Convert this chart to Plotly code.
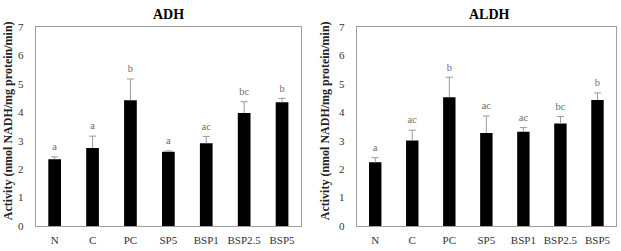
import plotly.graph_objects as go

categories = ["N", "C", "PC", "SP5", "BSP1", "BSP2.5", "BSP5"]

adh_values = [2.35, 2.74, 4.42, 2.61, 2.91, 3.97, 4.35]
adh_errors = [0.08, 0.42, 0.75, 0.03, 0.24, 0.40, 0.14]
adh_letters = ["a", "a", "b", "a", "ac", "bc", "b"]

aldh_values = [2.24, 3.01, 4.53, 3.27, 3.31, 3.60, 4.43]
aldh_errors = [0.16, 0.36, 0.70, 0.60, 0.15, 0.25, 0.25]
aldh_letters = ["a", "ac", "b", "ac", "ac", "bc", "b"]

y_ticks = [0, 1, 2, 3, 4, 5, 6, 7]
panel_titles = ["ADH", "ALDH"]
y_title = "Activity (nmol NADH/mg protein/min)"

SERIF = "Liberation Serif"
W, H = 621, 251

fig = go.Figure()

panels = [
    (adh_values, adh_errors, adh_letters, "x", "y"),
    (aldh_values, aldh_errors, aldh_letters, "x2", "y2"),
]

for vals, errs, letters, xa, ya in panels:
    fig.add_trace(go.Bar(
        x=categories, y=vals, xaxis=xa, yaxis=ya,
        marker=dict(color="#000000", line=dict(width=0)),
        showlegend=False, hoverinfo="skip",
    ))
    ex, ey = [], []
    for c, v, e in zip(categories, vals, errs):
        ex += [c, c, None]
        ey += [v, v + e, None]
    fig.add_trace(go.Scatter(
        x=ex, y=ey, xaxis=xa, yaxis=ya, mode="lines",
        line=dict(color="#9a9a9a", width=1),
        showlegend=False, hoverinfo="skip",
    ))
    tops = [v + e for v, e in zip(vals, errs)]
    fig.add_trace(go.Scatter(
        x=categories, y=tops, xaxis=xa, yaxis=ya, mode="markers+text",
        marker=dict(symbol="line-ew-open", size=5, color="#9a9a9a",
                    line=dict(width=1, color="#9a9a9a")),
        text=letters, textposition="top center",
        textfont=dict(family=SERIF, size=10.5, color="#6e6e6e"),
        showlegend=False, hoverinfo="skip",
    ))

y0 = (H - 231) / H
y1 = (H - 22) / H
dom1 = [35.7 / W, 301 / W]
dom2 = [356.7 / W, 616 / W]

axis_common = dict(
    showline=True, mirror=True, linecolor="#a0a0a0", linewidth=1,
    showgrid=False, zeroline=False, ticks="",
    tickfont=dict(family=SERIF, size=11, color="#333333"),
)

fig.update_layout(
    width=W, height=H,
    margin=dict(l=0, r=0, t=0, b=0),
    paper_bgcolor="white", plot_bgcolor="white",
    bargap=0.665,
    font=dict(family=SERIF),
    xaxis=dict(domain=dom1, anchor="y", ticklabelstandoff=4, **axis_common),
    yaxis=dict(domain=[y0, y1], anchor="x", range=[0, 7], tickvals=y_ticks,
               ticklabelstandoff=9, **axis_common),
    xaxis2=dict(domain=dom2, anchor="y2", ticklabelstandoff=4, **axis_common),
    yaxis2=dict(domain=[y0, y1], anchor="x2", range=[0, 7], tickvals=y_ticks,
                ticklabelstandoff=9, **axis_common),
)

ann = []
for title, cx, yx in [(panel_titles[0], 168, 8), (panel_titles[1], 489, 325)]:
    ann.append(dict(
        text="<b>%s</b>" % title, x=cx / W, y=(H - 9) / H, xref="paper", yref="paper",
        showarrow=False, xanchor="center", yanchor="middle",
        font=dict(family=SERIF, size=14, color="#000000"),
    ))
    ann.append(dict(
        text="<b>%s</b>" % y_title, x=yx / W, y=(H - 121) / H, xref="paper", yref="paper",
        showarrow=False, xanchor="center", yanchor="middle", textangle=-90,
        font=dict(family=SERIF, size=12, color="#222222"),
    ))
fig.update_layout(annotations=ann)

fig.write_html("out.html")
